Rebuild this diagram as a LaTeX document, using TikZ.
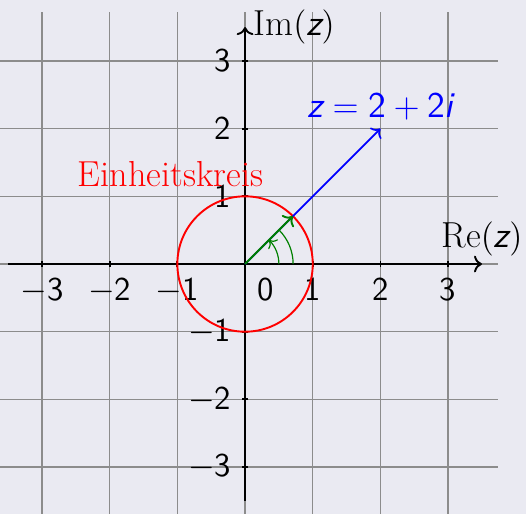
\documentclass[tikz,border=0pt]{standalone}
\usepackage{fontspec}
\definecolor{PlotBg}{RGB}{234,234,242}
\definecolor{PlotGrid}{RGB}{140,140,140}
\definecolor{AngleGreen}{RGB}{0,128,0}
\usetikzlibrary{
    arrows.meta,
    positioning,
}
\newcommand{\zsf}{\mbox{\sffamily\itshape z}}

\begin{document}
\begin{tikzpicture}[
        numlbl/.style={font=\fontsize{14}{16}\selectfont},
        txtlbl/.style={font=\fontsize{15.2}{18}\selectfont},
        gridline/.style={PlotGrid, line width=0.6pt},
        axisline/.style={thick, ->},
        anglemark/.style={AngleGreen, line width=0.5pt},
    ]
        \fill[PlotBg] (-3.62,-3.69) rectangle (4.15,3.90);
        \useasboundingbox (-3.62,-3.69) rectangle (4.15,3.90);
        \clip (-3.62,-3.69) rectangle (4.15,3.90);
        \draw[gridline] (-3.73,-3.73) grid (3.73,3.73);

        \coordinate (O) at (0,0);
        \coordinate (xmin) at (-3.5,0);
        \coordinate (xmax) at (3.5,0);
        \coordinate (ymin) at (0,-3.5);
        \coordinate (ymax) at (0,3.5);
        \coordinate (u) at (45:1);
        \coordinate (z) at (2,2);

        \draw[axisline] (xmin) -- (xmax);
        \draw[axisline] (ymin) -- (ymax);
        \foreach \i in {-3,-2,-1,1,2,3} {
            \draw[thick] (\i,0.05) -- (\i,-0.05);
            \draw[thick] (0.05,\i) -- (-0.05,\i);
            \node[below, numlbl] (xl\i) at (\i,-0.08) {$\mathsf{\i}$};
            \node[left, numlbl] (yl\i) at (-0.08,\i) {$\mathsf{\i}$};
        }
        \node[numlbl] (zero) at (0.3,-0.38) {$\mathsf{0}$};
        \node[above, txtlbl] (re) at (xmax) {$\mathrm{Re}(\zsf)$};
        \node[right, txtlbl] (im) at (ymax) {$\mathrm{Im}(\zsf)$};

        \draw[thick, red] (O) circle[radius=1];
        \node[txtlbl, red, anchor=base] (kreis) at (-1.1,1.14) {Einheitskreis};

        \draw[line width=0.7pt, blue, ->] (O) -- (z);
        \node[above, txtlbl, blue] (zlbl) at (z) {$\zsf = \mathsf{2} + \mathsf{2}\mbox{\sffamily\itshape i}$};
        \draw[thick, AngleGreen, ->] (O) -- (u);
        \draw[anglemark, ->] (0.5,0) arc[start angle=0, end angle=45, radius=0.5];
        \draw[anglemark] (0.71,0) arc[start angle=0, end angle=45, radius=0.71];
    \end{tikzpicture}
\end{document}
